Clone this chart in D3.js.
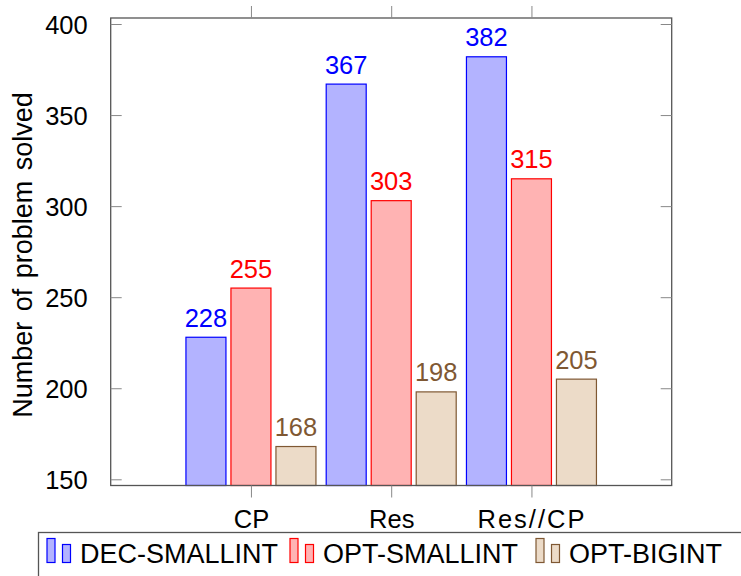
<!DOCTYPE html>
<html>
<head>
<meta charset="utf-8">
<script src="https://cdn.jsdelivr.net/npm/d3@7"></script>
<style>
html,body{margin:0;padding:0;background:#fff;}
svg{display:block;}
text{font-family:"Liberation Sans",Arial,sans-serif;}
</style>
</head>
<body>
<svg id="chart" width="741" height="576"></svg>
<script>
const categories = ["CP", "Res", "Res//CP"];
const seriesNames = ["DEC-SMALLINT", "OPT-SMALLINT", "OPT-BIGINT"];
const decSmallint = [228, 367, 382];
const optSmallint = [255, 303, 315];
const optBigint = [168, 198, 205];
const yTicks = [150, 200, 250, 300, 350, 400];
const yTitle = "Number of problem solved";

const seriesValues = [decSmallint, optSmallint, optBigint];
const fills = ["#b3b3ff", "#ffb3b3", "#ecdbc8"];
const strokes = ["#0000ff", "#ff0000", "#7f5833"];
const labelColors = ["#0000ff", "#ff0000", "#7f5833"];

const svg = d3.select("#chart");
const L = 110.7, R = 671.7, T = 18, B = 485.5;

const x = d3.scalePoint().domain(categories).range([L, R]).padding(1);
const xs = d3.scaleBand().domain(seriesNames).range([-65, 65]).paddingInner(5/45).paddingOuter(0);
const y = d3.scaleLinear().domain([146.6, 403.3]).range([B, T]);

// bars
seriesNames.forEach((s, si) => {
  const g = svg.append("g");
  g.selectAll("rect").data(seriesValues[si]).join("rect")
    .attr("x", (d, i) => x(categories[i]) + xs(s))
    .attr("y", d => y(d))
    .attr("width", xs.bandwidth())
    .attr("height", d => B - y(d))
    .attr("fill", fills[si])
    .attr("stroke", strokes[si])
    .attr("stroke-width", 1.2);
  g.selectAll("text").data(seriesValues[si]).join("text")
    .attr("x", (d, i) => x(categories[i]) + xs(s) + xs.bandwidth() / 2)
    .attr("y", d => y(d) - 10.5)
    .attr("text-anchor", "middle")
    .attr("font-size", 25.5)
    .attr("fill", labelColors[si])
    .text(d => d);
});

// axis box
svg.append("rect").attr("x", L).attr("y", T).attr("width", R - L).attr("height", B - T)
  .attr("fill", "none").attr("stroke", "#555").attr("stroke-width", 1.3);

// y axis ticks (inner, both sides)
const yAxisL = d3.axisLeft(y).tickValues(yTicks).tickSize(-11).tickPadding(23);
const gyl = svg.append("g").attr("transform", `translate(${L},0)`).call(yAxisL);
gyl.select(".domain").remove();
gyl.selectAll(".tick line").attr("stroke", "#888").attr("stroke-width", 1);
gyl.selectAll(".tick text").attr("font-size", 25.5).attr("fill", "#000")
  .attr("font-family", "Liberation Sans, Arial, sans-serif").attr("dy", "0.36em");

const yAxisR = d3.axisRight(y).tickValues(yTicks).tickSize(-11).tickFormat("");
const gyr = svg.append("g").attr("transform", `translate(${R},0)`).call(yAxisR);
gyr.select(".domain").remove();
gyr.selectAll(".tick line").attr("stroke", "#888").attr("stroke-width", 1);

// x axis ticks (outer, bottom & top)
const xAxisB = d3.axisBottom(x).tickSize(12).tickPadding(12);
const gxb = svg.append("g").attr("transform", `translate(0,${B})`).call(xAxisB);
gxb.select(".domain").remove();
gxb.selectAll(".tick line").attr("stroke", "#888").attr("stroke-width", 1);
gxb.selectAll(".tick text").attr("font-size", 25.5).attr("fill", "#000")
  .attr("font-family", "Liberation Sans, Arial, sans-serif").attr("dy", "0.71em")
  .attr("letter-spacing", d => d.includes("//") ? 2 : 0);

const xAxisT = d3.axisTop(x).tickSize(12).tickFormat("");
const gxt = svg.append("g").attr("transform", `translate(0,${T})`).call(xAxisT);
gxt.select(".domain").remove();
gxt.selectAll(".tick line").attr("stroke", "#888").attr("stroke-width", 1);

// y title
svg.append("text").attr("transform", "translate(32,255) rotate(-90)")
  .attr("text-anchor", "middle").attr("font-size", 27).attr("word-spacing", 3)
  .attr("fill", "#000").text(yTitle);

// legend
svg.append("rect").attr("x", 38.5).attr("y", 532.5).attr("width", 740).attr("height", 80)
  .attr("fill", "#fff").attr("stroke", "#555").attr("stroke-width", 1.3);
const legendX = [47, 290, 536];
seriesNames.forEach((s, si) => {
  const lx = legendX[si];
  svg.append("rect").attr("x", lx).attr("y", 538.5).attr("width", 8).attr("height", 24)
    .attr("fill", fills[si]).attr("stroke", strokes[si]).attr("stroke-width", 1.2);
  svg.append("rect").attr("x", lx + 15.5).attr("y", 544.5).attr("width", 8).attr("height", 18)
    .attr("fill", fills[si]).attr("stroke", strokes[si]).attr("stroke-width", 1.2);
  svg.append("text").attr("x", lx + 33).attr("y", 563).attr("font-size", 27)
    .attr("fill", "#000").text(s);
});
</script>
</body>
</html>
